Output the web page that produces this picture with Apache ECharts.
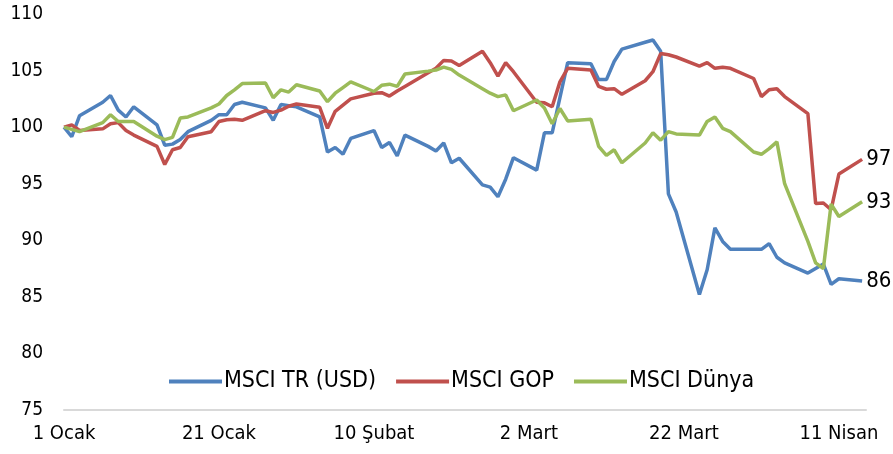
<!DOCTYPE html>
<html>
<head>
<meta charset="utf-8">
<script src="https://cdn.jsdelivr.net/npm/echarts@6/dist/echarts.min.js"></script>
<style>
  html, body { margin: 0; padding: 0; background: #fff; }
  #chart { width: 893px; height: 454px; }
</style>
</head>
<body>
<div id="chart"></div>
<script>
  // gün sayısı (1 Ocak = 0), işlem günleri
  var days = [0,1,2,5,6,7,8,9,12,13,14,15,16,19,20,21,22,23,26,27,28,29,30,
    33,34,35,36,37,40,41,42,43,44,47,48,49,50,51,54,55,56,57,58,
    61,62,63,64,65,68,69,70,71,72,75,76,77,78,79,82,83,84,85,86,89,90,
    91,92,93,96,97,98,99,100,103]

  var msciTR = [100,99.15,101.0,102.2,102.8,101.5,100.9,101.8,100.2,98.4,98.5,98.9,99.6,
    100.6,101.1,101.1,102.0,102.2,101.7,100.6,102.0,101.9,101.8,
    100.9,97.8,98.2,97.6,99.0,99.7,98.2,98.65,97.45,99.3,98.3,97.9,98.6,96.85,97.25,94.9,94.7,93.85,95.4,97.3,
    96.2,99.5,99.5,102.6,105.7,105.6,104.2,104.2,105.8,106.9,107.5,107.7,106.7,94.1,92.5,85.2,87.4,91.1,89.9,89.2,89.2,89.2,
    89.7,88.5,88.0,87.1,87.5,87.9,86.1,86.6,86.4]

  var msciGOP = [100,100.2,99.7,99.85,100.3,100.4,99.7,99.3,98.3,96.7,98.0,98.2,99.15,
    99.6,100.5,100.65,100.7,100.6,101.45,101.3,101.5,101.85,102.05,
    101.75,99.9,101.4,101.95,102.5,103.0,103.05,102.75,103.2,103.6,104.8,105.2,105.9,105.85,105.45,106.7,105.7,104.5,105.7,104.9,
    102.2,102.15,101.8,104.0,105.2,105.05,103.6,103.35,103.4,102.9,104.1,104.9,106.5,106.4,106.2,105.4,105.7,105.2,105.3,105.2,104.3,102.7,
    103.3,103.4,102.7,101.2,93.25,93.3,92.7,95.85,97.15]

  var msciDunya = [100,99.8,99.6,100.4,101.1,100.5,100.5,100.5,99.2,98.9,99.1,100.8,100.9,
    101.7,102.05,102.8,103.3,103.85,103.9,102.6,103.3,103.1,103.75,
    103.2,102.25,103.0,103.5,104.0,103.15,103.7,103.8,103.6,104.7,104.95,105.05,105.3,105.1,104.6,103.4,103.0,102.7,102.85,101.45,
    102.4,101.7,100.3,101.65,100.55,100.7,98.3,97.5,98.0,96.85,98.6,99.5,98.85,99.6,99.4,99.3,100.5,100.9,99.9,99.6,97.8,97.6,
    98.1,98.7,95.0,89.9,88.0,87.5,93.2,92.1,93.4]

  var xLabels = ['1 Ocak','21 Ocak','10 Şubat','2 Mart','22 Mart','11 Nisan']
  var seriesNames = ['MSCI TR (USD)','MSCI GOP','MSCI Dünya']
  var colors = ['#4F81BD','#C0504D','#9BBB59']

  var font = '"DejaVu Sans Condensed", "DejaVu Sans", sans-serif'

  function pairs(vals) {
    return vals.map(function (v, i) { return [days[i], v] })
  }

  var myChart = echarts.init(document.getElementById('chart'))
  var lists = [msciTR, msciGOP, msciDunya]

  var option = {
    animation: false,
    color: colors,
    grid: { left: 64, right: 27, top: 14, bottom: 44 },
    legend: {
      data: seriesNames,
      top: 365,
      left: 164,
      icon: 'rect',
      itemWidth: 53,
      itemHeight: 4,
      itemGap: 20,
      textStyle: { fontFamily: font, fontSize: 23, color: '#000', padding: [0, 0, 0, -3] }
    },
    xAxis: {
      type: 'value',
      min: 0,
      max: 103.5,
      interval: 20,
      splitLine: { show: false },
      axisTick: { show: false },
      axisLine: { show: true, lineStyle: { color: '#D9D9D9', width: 2 } },
      axisLabel: {
        showMaxLabel: false,
        margin: 14,
        fontFamily: font,
        fontSize: 20,
        color: '#000',
        formatter: function (v) { return xLabels[v / 20] || '' }
      }
    },
    yAxis: {
      type: 'value',
      min: 75,
      max: 110,
      interval: 5,
      splitLine: { show: false },
      axisLine: { show: false },
      axisTick: { show: false },
      axisLabel: { margin: 21, fontFamily: font, fontSize: 19, color: '#000' }
    },
    series: lists.map(function (vals, i) {
      return {
        name: seriesNames[i],
        type: 'line',
        data: pairs(vals),
        showSymbol: false,
        symbol: 'none',
        lineStyle: { width: 3.5, color: colors[i] },
        endLabel: {
          show: true,
          distance: 4,
          fontFamily: font,
          fontSize: 22,
          color: '#000',
          formatter: function (p) { return Math.round(p.value[1]) }
        }
      }
    })
  }
  myChart.setOption(option)
</script>
</body>
</html>
